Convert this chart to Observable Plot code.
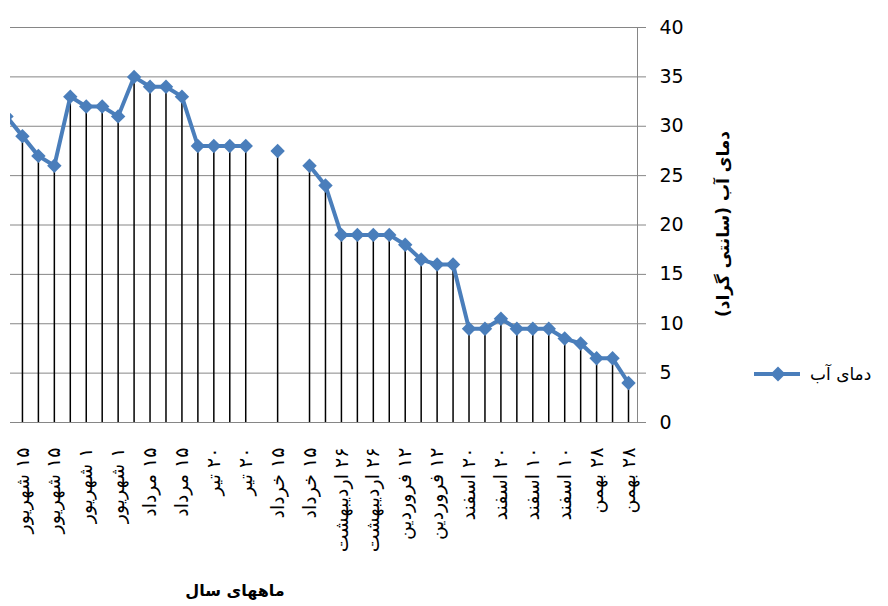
<!DOCTYPE html>
<html><head><meta charset="utf-8">
<script src="https://cdn.jsdelivr.net/npm/d3@7"></script>
<script src="https://cdn.jsdelivr.net/npm/@observablehq/plot@0.6"></script>
<style>
body{margin:0;background:#fff;}
#wrap{position:relative;width:888px;height:606px;}
#legend{position:absolute;left:752px;top:362px;display:flex;align-items:center;font:17px "DejaVu Sans",sans-serif;color:#000;}
#ytitle{position:absolute;left:576px;top:211px;width:300px;height:26px;line-height:26px;text-align:center;direction:rtl;transform:rotate(-90deg);font:bold 17px "DejaVu Sans",sans-serif;color:#000;white-space:nowrap;}
</style></head><body><div id="wrap"></div>
<script>
// Water temperature per sampling date
const temps = [31,29,27,26,33,32,32,31,35,34,34,33,28,28,28,28,null,27.5,null,26,24,19,19,19,19,18,16.5,16,16,9.5,9.5,10.5,9.5,9.5,9.5,8.5,8,6.5,6.5,4];
// Category labels shown (every second category)
const tickLabels = ["۱۵ شهریور","۱۵ شهریور","۱ شهریور","۱ شهریور","۱۵ مرداد","۱۵ مرداد","۲۰ تیر","۲۰ تیر","۱۵ خرداد","۱۵ خرداد","۲۶ اردیبهشت","۲۶ اردیبهشت","۱۲ فروردین","۱۲ فروردین","۲۰ اسفند","۲۰ اسفند","۱۰ اسفند","۱۰ اسفند","۲۸ بهمن","۲۸ بهمن"];
const yTicks = [0,5,10,15,20,25,30,35,40];
const seriesName = "دمای آب";
const yTitle = "دمای آب (سانتی گراد)";
const xTitle = "ماههای سال";

const blue = "#4a7ebb";
const rtl = s => "\u200F" + s + "\u200F";
const data = temps.map((v, i) => ({i, v}));
const present = data.filter(d => d.v != null);
const labelTicks = tickLabels.map((_, k) => 2 * k + 1);

const chart = Plot.plot({
  width: 888, height: 606,
  marginLeft: 10, marginRight: 251, marginTop: 27, marginBottom: 184,
  style: {fontFamily: "'DejaVu Sans', sans-serif", background: "white", color: "black"},
  x: {type: "point", domain: d3.range(temps.length), range: [6, 628], padding: 0, axis: null},
  y: {domain: [0, 40], axis: null},
  marks: [
    Plot.gridY(yTicks, {stroke: "#868686", strokeOpacity: 1}),
    Plot.axisY({anchor: "right", ticks: yTicks, tickSize: 8, tickPadding: 14, fontSize: 19, stroke: "#868686", fill: "black", label: null}),
    Plot.ruleY([0], {stroke: "#868686"}),
    Plot.frame({anchor: "right", stroke: "#868686"}),
    Plot.ruleX(present, {x: "i", y1: 0, y2: "v", stroke: "black", strokeWidth: 1.5, clip: true}),
    Plot.line(data, {x: "i", y: "v", stroke: blue, strokeWidth: 4, clip: true}),
    Plot.dot(present, {x: "i", y: "v", symbol: "diamond2", r: 6.5, fill: blue, clip: true}),
    Plot.text(labelTicks, {x: d => d, text: d => rtl(tickLabels[(d - 1) / 2]), frameAnchor: "bottom", rotate: -90, textAnchor: "end", lineAnchor: "middle", dy: 25, fontSize: 19}),
    Plot.text([xTitle], {frameAnchor: "bottom", text: d => rtl(d), dx: -89, dy: 173, fontWeight: "bold", fontSize: 16})
  ]
});
const wrap = document.getElementById("wrap");
wrap.appendChild(chart);

const yt = document.createElement("div");
yt.id = "ytitle";
yt.textContent = yTitle;
wrap.appendChild(yt);

const legend = document.createElement("div");
legend.id = "legend";
legend.innerHTML = `<svg width="52" height="24"><line x1="2" x2="48" y1="12" y2="12" stroke="${blue}" stroke-width="4"/><path d="M26,4.5 L33.5,12 L26,19.5 L18.5,12Z" fill="${blue}"/></svg><span dir="rtl" style="margin-left:6px">${seriesName}</span>`;
wrap.appendChild(legend);
</script></body></html>
